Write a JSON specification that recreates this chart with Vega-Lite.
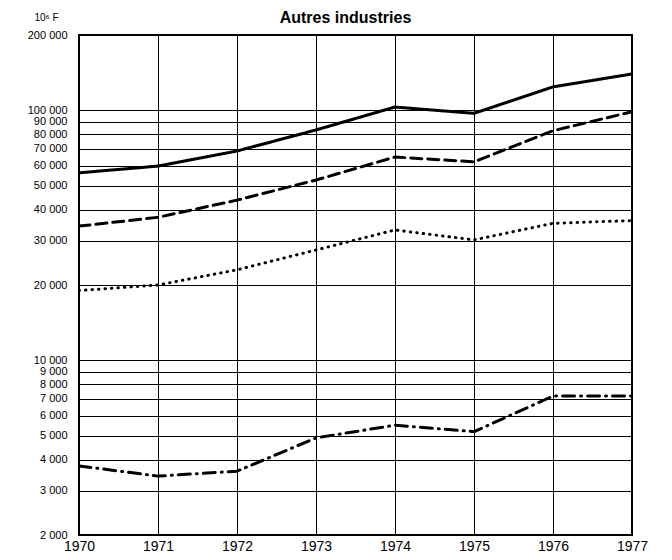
{
  "$schema": "https://vega.github.io/schema/vega-lite/v6.json",
  "autosize": {"type": "none"},
  "width": 553,
  "height": 500,
  "padding": {"left": 79, "top": 35, "right": 40, "bottom": 25},
  "config": {
    "locale": {"number": {"decimal": ",", "thousands": " ", "grouping": [3], "currency": ["", " F"]}},
    "font": "Liberation Sans",
    "view": {"stroke": "#000", "strokeWidth": 2}
  },
  "title": {"text": "Autres industries", "fontSize": 16, "fontWeight": "bold", "color": "#000", "offset": 6, "anchor": "middle", "dx": -10, "dy": 20},
  "data": {"values": [
    {"year": 1970, "series": "a", "value": 56200},
    {"year": 1971, "series": "a", "value": 59800},
    {"year": 1972, "series": "a", "value": 68700},
    {"year": 1973, "series": "a", "value": 83400},
    {"year": 1974, "series": "a", "value": 103000},
    {"year": 1975, "series": "a", "value": 97200},
    {"year": 1976, "series": "a", "value": 124000},
    {"year": 1977, "series": "a", "value": 139700},
    {"year": 1970, "series": "b", "value": 34400},
    {"year": 1971, "series": "b", "value": 37300},
    {"year": 1972, "series": "b", "value": 43700},
    {"year": 1973, "series": "b", "value": 52600},
    {"year": 1974, "series": "b", "value": 65000},
    {"year": 1975, "series": "b", "value": 62200},
    {"year": 1976, "series": "b", "value": 82800},
    {"year": 1977, "series": "b", "value": 98600},
    {"year": 1970, "series": "c", "value": 19000},
    {"year": 1971, "series": "c", "value": 20000},
    {"year": 1972, "series": "c", "value": 23000},
    {"year": 1973, "series": "c", "value": 27600},
    {"year": 1974, "series": "c", "value": 33200},
    {"year": 1975, "series": "c", "value": 30300},
    {"year": 1976, "series": "c", "value": 35300},
    {"year": 1977, "series": "c", "value": 36200},
    {"year": 1970, "series": "d", "value": 3780},
    {"year": 1971, "series": "d", "value": 3440},
    {"year": 1972, "series": "d", "value": 3600},
    {"year": 1973, "series": "d", "value": 4890},
    {"year": 1974, "series": "d", "value": 5500},
    {"year": 1975, "series": "d", "value": 5180},
    {"year": 1976, "series": "d", "value": 7190},
    {"year": 1977, "series": "d", "value": 7200}
  ]},
  "mark": {"type": "line", "color": "#000", "strokeWidth": 3, "strokeCap": "round", "clip": true},
  "encoding": {
    "x": {
      "field": "year", "type": "quantitative",
      "scale": {"domain": [1970, 1977], "nice": false, "zero": false},
      "axis": {
        "title": null, "values": [1970, 1971, 1972, 1973, 1974, 1975, 1976, 1977], "format": "d",
        "grid": true, "gridColor": "#000", "gridWidth": 1, "gridOpacity": 1,
        "domain": false, "ticks": false, "labelPadding": 4, "labelOverlap": false,
        "labelFontSize": 14, "labelColor": "#000", "labelFlush": false
      }
    },
    "y": {
      "field": "value", "type": "quantitative",
      "scale": {"type": "log", "domain": [2000, 200000], "nice": false},
      "axis": {
        "values": [2000, 3000, 4000, 5000, 6000, 7000, 8000, 9000, 10000, 20000, 30000, 40000, 50000, 60000, 70000, 80000, 90000, 100000, 200000],
        "format": ",d", "labelOverlap": false,
        "grid": true, "gridColor": "#000", "gridWidth": 1.2, "gridOpacity": 1,
        "domain": false, "ticks": false, "labelPadding": 12,
        "labelFontSize": 11, "labelColor": "#000",
        "title": "10⁶ F", "titleAngle": 0, "titleFontSize": 10, "titleFontWeight": "normal",
        "titleColor": "#000", "titleX": -45, "titleY": -18, "titleAlign": "left", "titleBaseline": "middle"
      }
    },
    "strokeDash": {
      "field": "series", "type": "nominal",
      "scale": {"domain": ["a", "b", "c", "d"], "range": [[1, 0], [11, 6], [0.5, 6], [12, 6, 1, 6]]},
      "legend": null
    }
  }
}
